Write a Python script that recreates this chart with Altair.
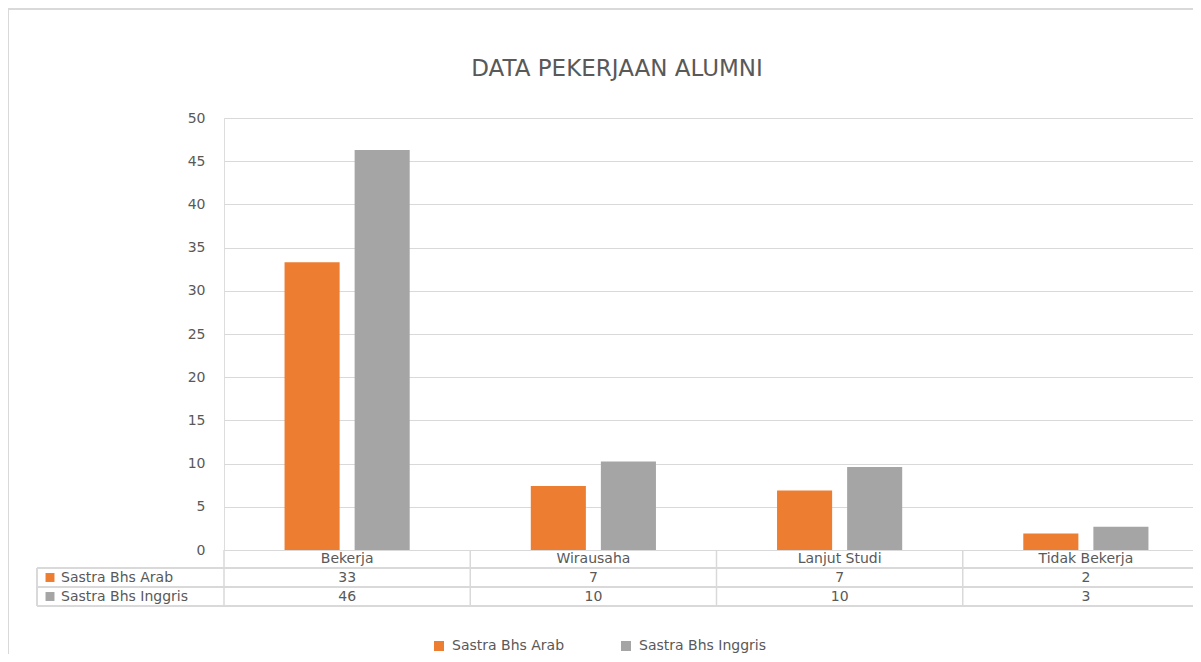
import altair as alt
import pandas as pd

# ---- data ----
categories = ["Bekerja", "Wirausaha", "Lanjut Studi", "Tidak Bekerja"]
series = ["Sastra Bhs Arab", "Sastra Bhs Inggris"]
arab_values = [33.3, 7.4, 6.9, 1.9]
inggris_values = [46.3, 10.25, 9.6, 2.7]
arab_table = ["33", "7", "7", "2"]
inggris_table = ["46", "10", "10", "3"]
y_ticks = [0, 5, 10, 15, 20, 25, 30, 35, 40, 45, 50]
title_text = ["DATA PEKERJAAN ALUMNI"]

colors = ["#ED7D31", "#A5A5A5"]
TEXT = "#595959"
LINE = "#D9D9D9"
FONT = "DejaVu Sans"

W, H = 969, 432
BAND_RIGHT = 985

rows = []
for c, a, b in zip(categories, arab_values, inggris_values):
    rows.append({"cat": c, "series": series[0], "value": a})
    rows.append({"cat": c, "series": series[1], "value": b})
df = pd.DataFrame(rows)

tbl = pd.DataFrame({"cat": categories, "arab": arab_table, "inggris": inggris_table})
cats_df = pd.DataFrame({"cat": categories})

xscale = alt.Scale(domain=categories, paddingInner=0, paddingOuter=0, range=[0, BAND_RIGHT])

bars = alt.Chart(df).mark_bar().encode(
    x=alt.X("cat:N", scale=xscale, sort=categories, axis=None),
    xOffset=alt.XOffset("series:N", sort=series,
                        scale=alt.Scale(domain=series, paddingInner=0.214, paddingOuter=0.864)),
    y=alt.Y("value:Q", scale=alt.Scale(domain=[0, 50], nice=False),
            axis=alt.Axis(values=y_ticks, title=None, domain=False, ticks=False,
                          labelPadding=19, gridColor=LINE, labelFontSize=14,
                          labelColor=TEXT, labelFont=FONT)),
    color=alt.Color("series:N", sort=series,
                    scale=alt.Scale(domain=series, range=colors),
                    legend=alt.Legend(orient="none", legendX=208, legendY=521,
                                      direction="horizontal", title=None,
                                      symbolType="square", symbolSize=100,
                                      symbolStrokeWidth=0, labelFontSize=14,
                                      labelColor=TEXT, labelFont=FONT,
                                      columnPadding=54, labelOffset=6)),
)

# table vertical separators on band edges
vlines = alt.Chart(cats_df).mark_rule(color=LINE, strokeWidth=1.5).encode(
    x=alt.X("cat:N", scale=xscale, sort=categories, bandPosition=0, axis=None),
    y=alt.value(432), y2=alt.value(488),
)

layers = [bars, vlines]

# category labels in the table header row
layers.append(alt.Chart(cats_df).mark_text(fontSize=14, color=TEXT, font=FONT,
                                            baseline="middle").encode(
    x=alt.X("cat:N", scale=xscale, sort=categories, axis=None),
    y=alt.value(441), text="cat:N"))

# horizontal table lines
for yy in [450, 469, 488]:
    layers.append(
        alt.Chart(cats_df).mark_rule(color=LINE, strokeWidth=1.5).encode(
            x=alt.value(-187), x2=alt.value(BAND_RIGHT), y=alt.value(yy)))
# left edge of table
layers.append(alt.Chart(cats_df).mark_rule(color=LINE, strokeWidth=1.5).encode(
    x=alt.value(-187), y=alt.value(450), y2=alt.value(488)))

# table values
for field, yy in [("arab", 459.5), ("inggris", 478.5)]:
    layers.append(
        alt.Chart(tbl).mark_text(fontSize=14, color=TEXT, font=FONT, baseline="middle").encode(
            x=alt.X("cat:N", scale=xscale, sort=categories, axis=None),
            y=alt.value(yy), text=alt.Text(f"{field}:N")))

# left column: legend keys of the table
for s, col, yy in [(series[0], colors[0], 459.5), (series[1], colors[1], 478.5)]:
    key_df = pd.DataFrame({"label": [s]})
    layers.append(alt.Chart(key_df).mark_square(size=80, color=col, opacity=1).encode(
        x=alt.value(-174), y=alt.value(yy)))
    layers.append(alt.Chart(key_df).mark_text(fontSize=14, color=TEXT, font=FONT,
                                               align="left", baseline="middle").encode(
        x=alt.value(-163), y=alt.value(yy), text="label:N"))

# chart title
layers.append(alt.Chart(pd.DataFrame({"t": title_text})).mark_text(
    fontSize=23, color=TEXT, font=FONT, baseline="middle", align="center").encode(
    x=alt.value(393), y=alt.value(-49), text="t:N"))

# outer chart frame (left and top)
layers.append(alt.Chart(cats_df).mark_rule(color=LINE, strokeWidth=2).encode(
    x=alt.value(-216), y=alt.value(-109), y2=alt.value(H + 120)))
layers.append(alt.Chart(cats_df).mark_rule(color=LINE, strokeWidth=2).encode(
    x=alt.value(-216), x2=alt.value(BAND_RIGHT), y=alt.value(-109)))

chart = alt.layer(*layers).properties(
    width=W, height=H,
    autosize=alt.AutoSizeParams(type="none"),
    padding={"left": 216, "top": 110, "right": 0, "bottom": 104},
).configure_view(stroke=None).configure(background="white")

chart.save("out.html", embed_options={"renderer": "svg", "actions": False})
